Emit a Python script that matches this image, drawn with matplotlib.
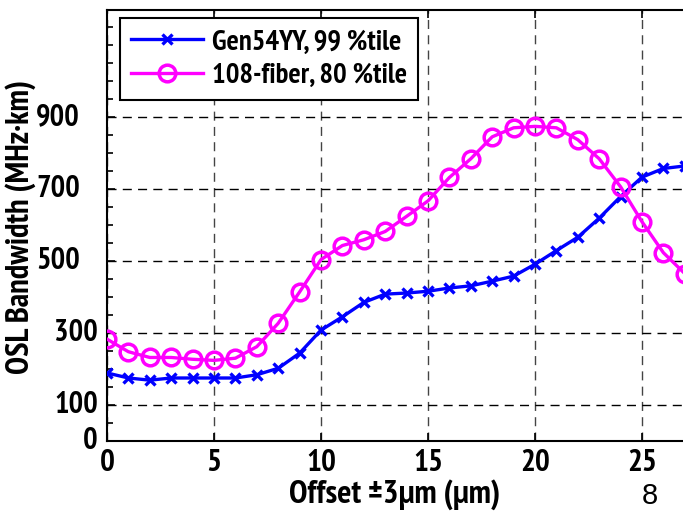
import matplotlib
matplotlib.use("Agg")
import matplotlib.pyplot as plt
from matplotlib.ticker import MultipleLocator, FixedLocator, NullFormatter
from matplotlib import font_manager

offset = list(range(0, 28))
gen54yy = [189, 175, 169, 175, 175, 175, 175, 184, 202, 244, 308, 345, 385, 408,
           411, 416, 425, 431, 444, 458, 491, 529, 566, 619, 679, 733, 757, 764]
fiber108 = [283, 248, 232, 232, 227, 224, 230, 262, 327, 414, 504, 543, 559, 582,
            624, 667, 732, 784, 845, 870, 874, 870, 837, 784, 706, 609, 523, 465]
yticks = [0, 100, 300, 500, 700, 900]
xticks = [0, 5, 10, 15, 20, 25]
label1 = "Gen54YY, 99 %tile"
label2 = "108-fiber, 80 %tile"

# pick an installed narrow sans family that has a real bold face
prefs = ['Arial Narrow', 'Liberation Sans Narrow', 'PT Sans Narrow', 'Roboto Condensed',
         'Fira Sans Condensed', 'IBM Plex Sans Condensed', 'Asap Condensed',
         'Barlow Semi Condensed', 'Barlow Condensed', 'Open Sans Condensed']
bold_fams = {}
for f in font_manager.fontManager.ttflist:
    w = f.weight if isinstance(f.weight, int) else {'bold': 700, 'normal': 400}.get(f.weight, 400)
    if f.style == 'normal':
        bold_fams.setdefault(f.name, set()).add(w)
NARROW = 'Liberation Sans'
for p in prefs:
    if p in bold_fams and any(700 <= w <= 800 for w in bold_fams[p]):
        NARROW = p
        break
FAM = [NARROW, 'Liberation Sans', 'DejaVu Sans']
plt.rcParams['font.family'] = FAM
plt.rcParams['font.weight'] = 'bold'

W, H = 683, 513
fig = plt.figure(figsize=(W / 100, H / 100), dpi=100)
left, right, top, bottom = 107, 683, 10, 441
ax = fig.add_axes([left / W, 1 - bottom / H, (right - left) / W, (bottom - top) / H])

ax.plot(offset, gen54yy, color='#0000ff', lw=2.4, marker='x', ms=7, mew=2.4,
        label=label1, zorder=3)
ax.plot(offset, fiber108, color='#ff00ff', lw=2.4, marker='o', ms=12, mew=2.5,
        fillstyle='none', label=label2, zorder=3)

ax.set_xlim(0, (right - left) / 21.4)
ax.set_ylim(0, (bottom - top) / 0.36)
ax.xaxis.set_major_locator(FixedLocator(xticks))
ax.yaxis.set_major_locator(FixedLocator(yticks))
ax.yaxis.set_minor_locator(MultipleLocator(50))
ax.yaxis.set_major_formatter(NullFormatter())
ax.tick_params(axis='both', which='both', direction='in', top=True, right=False,
               labelsize=22.5, width=1.2)
ax.tick_params(axis='both', which='major', length=6)
ax.tick_params(axis='both', which='minor', length=4)
ax.tick_params(axis='x', pad=6)
for lab in ax.get_xticklabels():
    lab.set_fontweight('bold')

# y tick labels (placed like the reference: upper ones sit further left)
ytr = ax.get_yaxis_transform()
for v in yticks:
    dx = -27 / 576 if v >= 500 else -9 / 576
    ax.text(dx, v, str(v), transform=ytr, ha='right', va='center', fontsize=22,
            fontweight='bold', clip_on=False)

ax.xaxis.grid(True, which='major', linestyle=(0, (6.5, 4.5)), color='#444444', lw=1.0)
ax.yaxis.grid(True, which='major', linestyle=(0, (6.5, 4.5)), color='black', lw=1.0)
ax.spines['right'].set_visible(False)
for s in ['left', 'bottom', 'top']:
    ax.spines[s].set_linewidth(1.5)

ax.set_xlabel("Offset \u00b13\u00b5m (\u00b5m)", fontsize=24, fontweight='bold', labelpad=1.5)
ax.text(-86 / 576, 0.497, "OSL Bandwidth (MHz\u00b7km)", transform=ax.transAxes,
        rotation=90, ha='center', va='center', fontsize=23.5, fontweight='bold')

leg = ax.legend(loc='upper left', bbox_to_anchor=(13 / 576, 1 - 8 / 431), borderaxespad=0,
                fontsize=20.6, frameon=True, fancybox=False, edgecolor='black', framealpha=1,
                handlelength=2.5, handletextpad=0.3, borderpad=0.4, labelspacing=0.25)
leg.get_frame().set_linewidth(1.5)
for t in leg.get_texts():
    t.set_fontweight('bold')

fig.text(650 / W, 1 - 496 / H, "8", fontsize=21, fontweight='normal', ha='center', va='center',
         family=['Liberation Sans', 'DejaVu Sans'])

fig.savefig("out.png", dpi=100)
